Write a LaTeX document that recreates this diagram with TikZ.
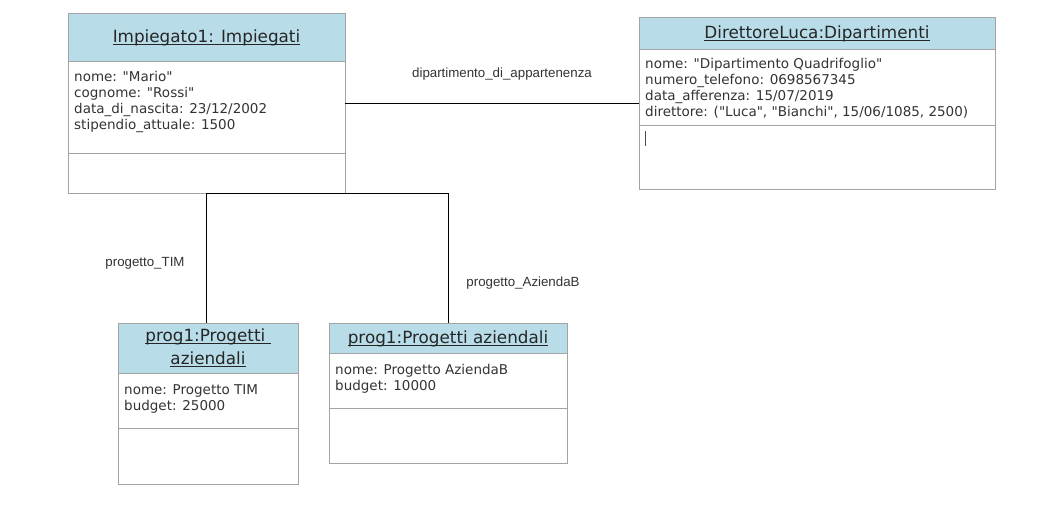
\documentclass[tikz,border=0pt]{standalone}
\usepackage{fontspec}
\setmainfont{DejaVu Sans}[Ligatures=TeXOff]
\newfontfamily\labfont{Liberation Sans}
\newcommand\ulx[1]{\setbox0=\hbox{#1}\rlap{\rule[-2.4pt]{\wd0}{0.8pt}}\box0}
\definecolor{hdrblue}{HTML}{B8DDE8}
\definecolor{boxgray}{HTML}{A3A3A3}
\definecolor{labgray}{HTML}{333333}
\tikzset{
  hdr/.style={draw=boxgray, fill=hdrblue, line width=1.2pt, anchor=north west, inner sep=0pt},
  sect/.style={draw=boxgray, fill=white, line width=1.2pt, anchor=north west, inner sep=0pt},
  outer/.style={anchor=north west, inner sep=0pt},
  hdrtext/.style={font=\fontsize{16.8}{23}\selectfont, text=black!85, align=center, inner sep=0pt},
  attrtext/.style={font=\fontsize{13.5}{16.1}\selectfont, text=black!80, align=left, anchor=north west, inner sep=0pt},
  conn/.style={draw=black, line width=1pt},
  lab/.style={font=\labfont\fontsize{13.3}{15}\selectfont, text=labgray, inner sep=0pt}
}
\begin{document}
\begin{tikzpicture}[x=1pt,y=-1pt]
\useasboundingbox (0,0) rectangle (1061,517);
\fill[white] (0,0) rectangle (1061,517);

% Impiegato1
\node[outer, minimum width=277pt, minimum height=180pt] (imp) at (68,13) {};
\node[hdr, minimum width=277pt, minimum height=48pt] (imph) at (68,13) {};
\node[sect, minimum width=277pt, minimum height=92pt] (impa) at (68,61) {};
\node[sect, minimum width=277pt, minimum height=40pt] (impm) at (68,153) {};
\node[hdrtext] (impt) at (206.5,38) {\ulx{Impiegato1: Impiegati}};
\node[attrtext] (impat) at (74,71) {nome: "Mario"\\cognome: "Rossi"\\data\_di\_nascita: 23/12/2002\\stipendio\_attuale: 1500};

% DirettoreLuca
\node[outer, minimum width=356pt, minimum height=172pt] (dir) at (639,17) {};
\node[hdr, minimum width=356pt, minimum height=32pt] (dirh) at (639,17) {};
\node[sect, minimum width=356pt, minimum height=76pt] (dira) at (639,49) {};
\node[sect, minimum width=356pt, minimum height=64pt] (dirm) at (639,125) {};
\node[hdrtext] (dirt) at (817,33.5) {\ulx{DirettoreLuca:Dipartimenti}};
\node[attrtext] (dirat) at (645,58) {nome: "Dipartimento Quadrifoglio"\\numero\_telefono: 0698567345\\data\_afferenza: 15/07/2019\\direttore: ("Luca", "Bianchi", 15/06/1085, 2500)};
\draw[black!70, line width=1pt] (645.5,131) -- (645.5,146);

% prog1 TIM
\node[outer, minimum width=180pt, minimum height=161pt] (tim) at (118,323) {};
\node[hdr, minimum width=180pt, minimum height=50pt] (timh) at (118,323) {};
\node[sect, minimum width=180pt, minimum height=55pt] (tima) at (118,373) {};
\node[sect, minimum width=180pt, minimum height=56pt] (timm) at (118,428) {};
\node[hdrtext] (timt) at (208,348) {\ulx{prog1:Progetti\ }\\\ulx{aziendali}};
\node[attrtext] (timat) at (124,384.5) {nome: Progetto TIM\\budget: 25000};

% prog1 AziendaB
\node[outer, minimum width=238pt, minimum height=140pt] (azb) at (329,323) {};
\node[hdr, minimum width=238pt, minimum height=30pt] (azbh) at (329,323) {};
\node[sect, minimum width=238pt, minimum height=55pt] (azba) at (329,353) {};
\node[sect, minimum width=238pt, minimum height=55pt] (azbm) at (329,408) {};
\node[hdrtext] (azbt) at (448,339) {\ulx{prog1:Progetti aziendali}};
\node[attrtext] (azbat) at (335,364) {nome: Progetto AziendaB\\budget: 10000};

% connectors
\draw[conn] (imp.east) -- (dir.west);
\draw[conn] (imp.south) -- (imp.south |- tim.north);
\draw[conn] (imp.south) -- (imp.south -| azb.north) -- (azb.north);

% labels
\node[lab] (l1) at (502,74) {dipartimento\_di\_appartenenza};
\node[lab] (l2) at (145,263) {progetto\_TIM};
\node[lab] (l3) at (523,283) {progetto\_AziendaB};
\end{tikzpicture}
\end{document}
